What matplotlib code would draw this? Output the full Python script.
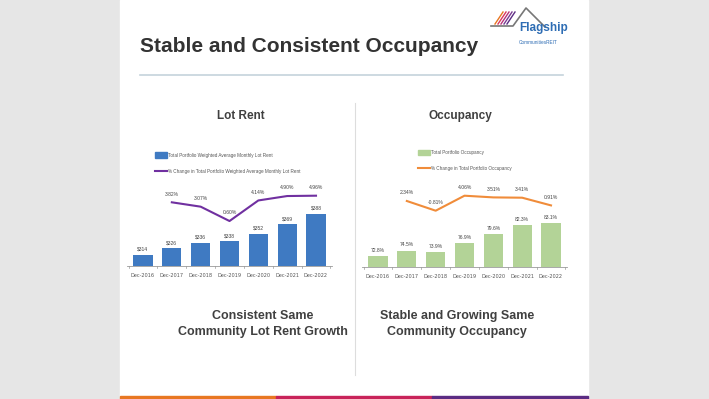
import numpy as np
from matplotlib import pyplot as plt
from matplotlib.patches import Rectangle

W, H = 709, 399

years = ["Dec-2016", "Dec-2017", "Dec-2018", "Dec-2019", "Dec-2020", "Dec-2021", "Dec-2022"]
lot_rent = [314, 326, 336, 338, 352, 369, 388]
rent_change = [None, 3.82, 3.07, 0.60, 4.14, 4.90, 4.96]
occupancy = [72.8, 74.5, 73.9, 76.9, 79.6, 82.3, 83.1]
occ_change = [None, 2.34, -0.81, 4.06, 3.51, 3.41, 0.91]

NARROW = ["Liberation Sans Narrow", "Liberation Sans", "DejaVu Sans"]
GREY_TXT = "#404040"


def px_axes(fig, left, top, right, bottom, **kw):
    # pixel box -> figure fraction
    return fig.add_axes([left / W, 1 - bottom / H, (right - left) / W, (bottom - top) / H], **kw)


def format_axis(ax):
    for s in ["top", "left", "right"]:
        ax.spines[s].set_visible(False)
    ax.spines["bottom"].set_color("#9a9a9a")
    ax.spines["bottom"].set_linewidth(0.6)
    ax.tick_params(axis="y", which="both", left=False, right=False, labelleft=False, labelright=False)
    ax.tick_params(axis="x", which="both", length=0, labelsize=3.6, labelcolor="#555555", pad=5)
    ax.set_facecolor("#ffffff00")


def plot_combo(fig, box, bars, change, ylim, ylim2, bar_color, line_color, bar_fmt, leg_bar, leg_line, leg_xy):
    ax = px_axes(fig, *box)
    ax2 = ax.twinx()
    x = np.arange(len(years))
    ax.bar(x, [b - ylim[0] for b in bars], bottom=ylim[0], width=0.66, color=bar_color, zorder=2)
    ax.set_xlim(-0.555, 6.555)
    ax.set_ylim(ylim)
    ax.set_xticks(x)
    ax.set_xticklabels(years)
    format_axis(ax)
    # small boundary ticks on the baseline
    for xb in np.arange(-0.5, 7.0, 1.0):
        ax.plot([xb, xb], [ylim[0], ylim[0] - (ylim[1] - ylim[0]) * 0.025], color="#9a9a9a", lw=0.5, clip_on=False)
    for xi, b in zip(x, bars):
        ax.text(xi, b + (ylim[1] - ylim[0]) * 0.035, bar_fmt(b), ha="center", va="bottom",
                fontsize=3.6, color="#444444", family=NARROW)
    ax2.set_ylim(ylim2)
    format_axis(ax2)
    ax2.spines["bottom"].set_visible(False)
    xs = [xi for xi, c in zip(x, change) if c is not None]
    cs = [c for c in change if c is not None]
    ax2.plot(xs, cs, color=line_color, lw=1.5, zorder=3)
    for xi, c in zip(xs, cs):
        ax2.text(xi, c + (ylim2[1] - ylim2[0]) * 0.065, f"{c:.2f}%", ha="center", va="bottom",
                 fontsize=3.6, color="#444444", family=NARROW)
    # legend drawn by hand in pixel space
    lx, ly = leg_xy
    fig.patches.append(Rectangle((lx / W, 1 - (ly + 2.5) / H), 12 / W, 5 / H,
                                 transform=fig.transFigure, color=bar_color))
    fig.text((lx + 13) / W, 1 - ly / H, leg_bar, fontsize=3.3, color="#555555", va="center", family=NARROW)
    fig.add_artist(plt.Line2D([lx / W, (lx + 12) / W], [1 - (ly + 16) / H] * 2, color=line_color, lw=1.5))
    fig.text((lx + 13) / W, 1 - (ly + 16) / H, leg_line, fontsize=3.3, color="#555555", va="center", family=NARROW)


fig = plt.figure(figsize=(W / 100, H / 100), dpi=100)
fig.patch.set_facecolor("#e6e6e6")

# slide area
fig.patches.append(Rectangle((120 / W, 0), 468 / W, 1, transform=fig.transFigure, color="white", zorder=-5))
strip = [("#e87722", 120, 276), ("#c8235a", 276, 432), ("#5b2c83", 432, 588)]
for c, a, b in strip:
    fig.patches.append(Rectangle((a / W, 0), (b - a) / W, 3 / H, transform=fig.transFigure, color=c, zorder=1))

fig.text(140 / W, 1 - 46 / H, "Stable and Consistent Occupancy", fontsize=15, fontweight="bold",
         color="#333333", va="center", family=NARROW)
fig.add_artist(plt.Line2D([140 / W, 563 / W], [1 - 75 / H] * 2, color="#c5d3dc", lw=1.2))
fig.add_artist(plt.Line2D([355 / W, 355 / W], [1 - 103 / H, 1 - 375 / H], color="#dddddd", lw=0.8))

# logo
fig.add_artist(plt.Line2D(np.array([491, 513, 526, 545]) / W, 1 - np.array([26, 26, 8, 27]) / H,
                          color="#777777", lw=1.2))
for i, c in enumerate(["#e87722", "#d8365e", "#b8327a", "#7a3a93", "#5b2c83"]):
    x0 = 495 + i * 3.0
    fig.add_artist(plt.Line2D([x0 / W, (x0 + 8) / W], [1 - 24 / H, 1 - 12 / H], color=c, lw=1.0))
fig.text(519 / W, 1 - 28 / H, "Flagship", fontsize=8.5, fontweight="bold", color="#2e6db4",
         va="center", family=NARROW)
fig.text(519 / W, 1 - 42 / H, "CommunitiesREIT", fontsize=3.4, color="#2e6db4", va="center", family=NARROW)

fig.text(241 / W, 1 - 116 / H, "Lot Rent", fontsize=8.5, fontweight="bold", color=GREY_TXT,
         ha="center", va="center", family=NARROW)
fig.text(460 / W, 1 - 116 / H, "Occupancy", fontsize=8.5, fontweight="bold", color=GREY_TXT,
         ha="center", va="center", family=NARROW)

plot_combo(fig, (127, 180, 332, 266), lot_rent, rent_change, (294, 448), (-7.14, 7.66),
           "#3f7ac2", "#7030a0", lambda v: f"${v}",
           "Total Portfolio Weighted Average Monthly Lot Rent",
           "% Change in Total Portfolio Weighted Average Monthly Lot Rent", (155, 155))
plot_combo(fig, (362, 180, 567, 266.7), occupancy, occ_change, (69.5, 96.3), (-19.0, 9.16),
           "#b3d397", "#f08c3a", lambda v: f"{v:.1f}%",
           "Total Portfolio Occupancy", "% Change in Total Portfolio Occupancy", (418, 152.5))

fig.text(263 / W, 1 - 324 / H, "Consistent Same\nCommunity Lot Rent Growth", fontsize=9,
         fontweight="bold", color=GREY_TXT, ha="center", va="center", linespacing=1.35, family=NARROW)
fig.text(457 / W, 1 - 324 / H, "Stable and Growing Same\nCommunity Occupancy", fontsize=9,
         fontweight="bold", color=GREY_TXT, ha="center", va="center", linespacing=1.35, family=NARROW)

fig.savefig("out.png", dpi=100, facecolor=fig.get_facecolor())
